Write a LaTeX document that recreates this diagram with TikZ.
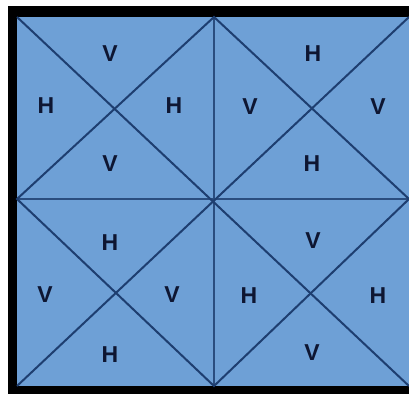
\documentclass[tikz,border=0pt]{standalone}
\usepackage{fontspec}
\setmainfont{Liberation Sans}
\usepackage{tikz}
\definecolor{panel}{RGB}{110,160,214}
\definecolor{ink}{RGB}{30,62,112}
\definecolor{letter}{RGB}{14,22,50}

\begin{document}
\begin{tikzpicture}[x=1pt, y=-1pt, lbl/.style={font=\bfseries\fontsize{23}{23}\selectfont, text=letter, inner sep=0pt}]
                \useasboundingbox (0,0) rectangle (409,394);
                \fill[black] (8,6) rectangle (409,394);
                \fill[panel] (17,17) rectangle (409,386);
                \coordinate (A) at (17,17);
                \coordinate (B) at (214,17);
                \coordinate (C) at (409,17);
                \coordinate (D) at (17,199);
                \coordinate (E) at (214,199);
                \coordinate (F) at (409,199);
                \coordinate (G) at (17,386);
                \coordinate (H) at (214,386);
                \coordinate (I) at (409,386);
                \draw[ink!85!panel, line width=1.4pt] (B) -- (H) (D) -- (F);
                \draw[ink, line width=2pt] (A) -- (I) (G) -- (C);
                \draw[ink, line width=2pt] (D) -- (B) -- (F) -- (H) -- cycle;
                % top left
                \node[lbl] (tlT) at (110,54) {V};
                \node[lbl] (tlL) at (46,106) {H};
                \node[lbl] (tlR) at (174,106) {H};
                \node[lbl] (tlB) at (110,164) {V};
                % top right
                \node[lbl] (trT) at (313,54) {H};
                \node[lbl] (trL) at (250,107) {V};
                \node[lbl] (trR) at (378,107) {V};
                \node[lbl] (trB) at (312,164) {H};
                % bottom left
                \node[lbl] (blT) at (110,243) {H};
                \node[lbl] (blL) at (45,295) {V};
                \node[lbl] (blR) at (172,295) {V};
                \node[lbl] (blB) at (110,355) {H};
                % bottom right
                \node[lbl] (brT) at (313,241) {V};
                \node[lbl] (brL) at (249,296) {H};
                \node[lbl] (brR) at (378,296) {H};
                \node[lbl] (brB) at (312,353) {V};
            \end{tikzpicture}
\end{document}
